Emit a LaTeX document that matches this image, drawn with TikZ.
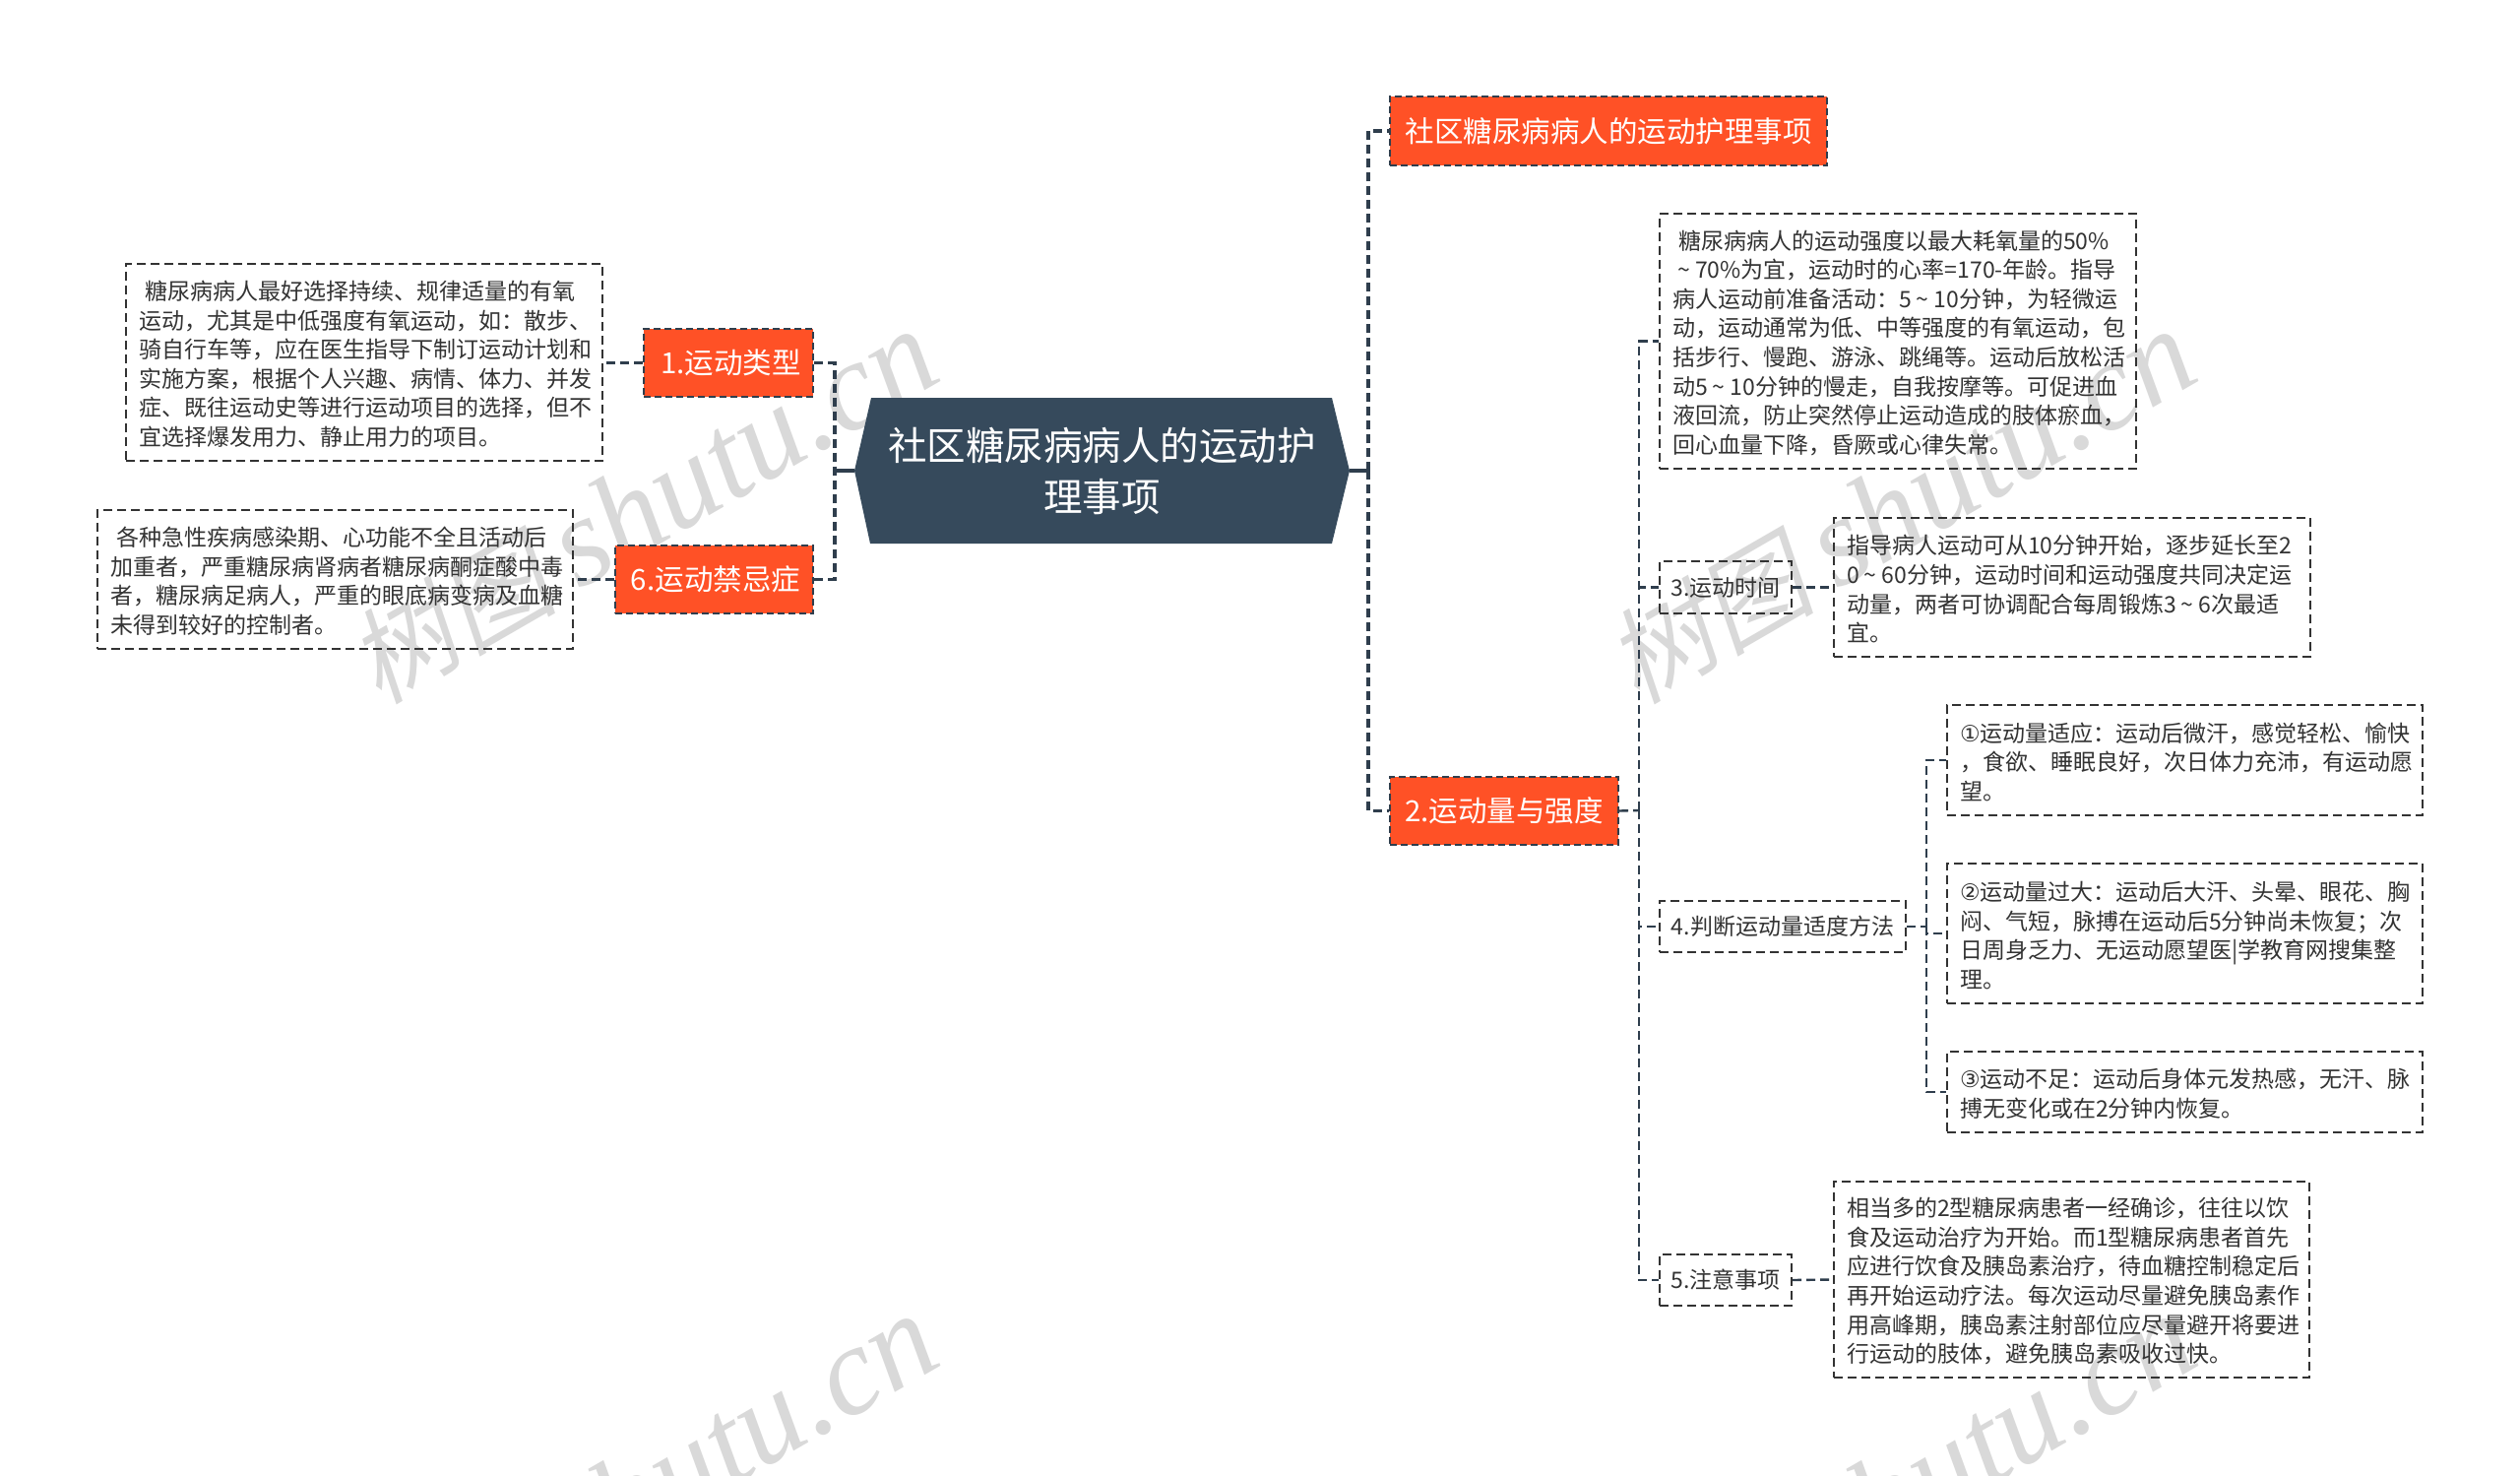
\documentclass[tikz,border=0pt]{standalone}
\usepackage{fontspec}
\setmainfont{Noto Sans CJK SC}
\newfontfamily\wmfont{Liberation Serif}
\newfontfamily\wmcjk[FakeSlant=0.2]{Noto Sans CJK SC}
\newfontfamily\symfont{DejaVu Sans}
\newcommand{\fs}[2]{\fontsize{#1}{#2}\selectfont}
\newcommand{\tld}{\makebox[1em]{\textasciitilde}}
\newcommand{\wmtext}{{\wmcjk\fs{106}{106}树图}\hspace{22pt}{\wmfont\itshape\fs{128}{128}shutu.cn}}
\begin{document}
\begin{tikzpicture}[x=1pt,y=-1pt,
  conn/.style={draw=linec,line width=2.4pt,dash pattern=on 9pt off 5pt},
  mainconn/.style={draw=linec,line width=3.2pt,dash pattern=on 9pt off 5pt},
  rootconn/.style={draw=linec,line width=3.2pt},
  orangebox/.style={draw=linec,line width=2.4pt,dash pattern=on 7pt off 4pt,fill=orangec,text=white,inner sep=0pt,font=\fs{29.5}{36},align=center},
  subbox/.style={draw=boxc,line width=2pt,dash pattern=on 9pt off 5pt,text=textc,inner sep=0pt,font=\fs{23}{29.6},align=center},
  textbox/.style={draw=boxc,line width=2pt,dash pattern=on 9pt off 5pt,text=textc,inner ysep=0pt,inner xsep=13pt,font=\fs{23}{29.6},align=left,text height=23pt},
  wm/.style={text=wmc,rotate=30,inner sep=0pt}]
\definecolor{linec}{HTML}{2F3E4D}
\definecolor{boxc}{HTML}{333333}
\definecolor{textc}{HTML}{333333}
\definecolor{orangec}{HTML}{FF5126}
\definecolor{rootc}{HTML}{364A5C}
\definecolor{wmc}{HTML}{D9D9D9}
\useasboundingbox[fill=white] (0,0) rectangle (2560,1499);
\coordinate (trunkL) at (848,478);
\coordinate (trunkR) at (1390,478);
\coordinate (trunkB) at (1665,823);
\coordinate (trunkC) at (1957,941);

\node[wm] (w1) at (653,516) {\wmtext};
\node[wm] (w2) at (1931,516) {\wmtext};
\node[wm] (w3) at (653,1516) {\wmtext};
\node[wm] (w4) at (1931,1516) {\wmtext};

\fill[rootc] (868,478) -- (885,404) -- (1353,404) -- (1371,478) -- (1353,552) -- (884,552) -- cycle;
\node[text=white,font=\fs{39.5}{52},align=center,inner sep=0pt] (root) at (1119.5,478) {社区糖尿病病人的运动护\\理事项};
\coordinate (rootW) at (868,478);
\coordinate (rootE) at (1371,478);

\node[orangebox,minimum width=444pt,minimum height=70pt] (title) at (1634,133) {社区糖尿病病人的运动护理事项};
\node[orangebox,minimum width=172pt,minimum height=69pt] (n1) at (740,368.5) {\hspace*{5pt}1.运动类型};
\node[orangebox,minimum width=201pt,minimum height=69pt] (n6) at (725.5,588.5) {\hspace*{3pt}6.运动禁忌症};
\node[orangebox,minimum width=232pt,minimum height=69pt] (n2) at (1528,823.5) {2.运动量与强度};

\node[textbox,text width=458pt,minimum height=200pt] (a1) at (370,368) {\hspace*{6pt}糖尿病病人最好选择持续、规律适量的有氧\\运动，尤其是中低强度有氧运动，如：散步、\\骑自行车等，应在医生指导下制订运动计划和\\实施方案，根据个人兴趣、病情、体力、并发\\症、既往运动史等进行运动项目的选择，但不\\宜选择爆发用力、静止用力的项目。};
\node[textbox,text width=457pt,minimum height=141pt] (a6) at (340.5,588.5) {\hspace*{6pt}各种急性疾病感染期、心功能不全且活动后\\加重者，严重糖尿病肾病者糖尿病酮症酸中毒\\者，糖尿病足病人，严重的眼底病变病及血糖\\未得到较好的控制者。};

\node[textbox,text width=458pt,minimum height=259pt] (b0) at (1928,346.5) {\hspace*{6pt}糖尿病病人的运动强度以最大耗氧量的50\%\\\tld 70\%为宜，运动时的心率=170-年龄。指导\\病人运动前准备活动：5\tld 10分钟，为轻微运\\动，运动通常为低、中等强度的有氧运动，包\\括步行、慢跑、游泳、跳绳等。运动后放松活\\动5\tld 10分钟的慢走，自我按摩等。可促进血\\液回流，防止突然停止运动造成的肢体瘀血，\\回心血量下降，昏厥或心律失常。};
\node[subbox,minimum width=134pt,minimum height=53pt] (n3) at (1753,596.5) {3.运动时间};
\node[textbox,text width=458pt,minimum height=141pt] (b3) at (2105,596.5) {指导病人运动可从10分钟开始，逐步延长至2\\0\tld 60分钟，运动时间和运动强度共同决定运\\动量，两者可协调配合每周锻炼3\tld 6次最适\\宜。};
\node[subbox,minimum width=250pt,minimum height=52pt] (n4) at (1811,941) {4.判断运动量适度方法};
\node[textbox,text width=457pt,minimum height=112pt] (c1) at (2219.5,772) {{\symfont ①}运动量适应：运动后微汗，感觉轻松、愉快\\，食欲、睡眠良好，次日体力充沛，有运动愿\\望。};
\node[textbox,text width=457pt,minimum height=142pt] (c2) at (2219.5,948) {{\symfont ②}运动量过大：运动后大汗、头晕、眼花、胸\\闷、气短，脉搏在运动后5分钟尚未恢复；次\\日周身乏力、无运动愿望医|学教育网搜集整\\理。};
\node[textbox,text width=457pt,minimum height=82pt] (c3) at (2219.5,1109) {{\symfont ③}运动不足：运动后身体元发热感，无汗、脉\\搏无变化或在2分钟内恢复。};
\node[subbox,minimum width=134pt,minimum height=52pt] (n5) at (1753,1300) {5.注意事项};
\node[textbox,text width=457pt,minimum height=199pt] (b5) at (2104.5,1299.5) {相当多的2型糖尿病患者一经确诊，往往以饮\\食及运动治疗为开始。而1型糖尿病患者首先\\应进行饮食及胰岛素治疗，待血糖控制稳定后\\再开始运动疗法。每次运动尽量避免胰岛素作\\用高峰期，胰岛素注射部位应尽量避开将要进\\行运动的肢体，避免胰岛素吸收过快。};

\draw[rootconn] (rootW) -- (trunkL);
\draw[mainconn] (n1.east) -| (trunkL);
\draw[mainconn] (n6.east) -| (trunkL);
\draw[rootconn] (rootE) -- (trunkR);
\draw[mainconn] (trunkR) |- (title.west);
\draw[mainconn] (trunkR) |- (n2.west);
\draw[conn] (n1.west) -- (a1.east |- n1.west);
\draw[conn] (n6.west) -- (a6.east |- n6.west);
\draw[conn] (n2.east) -- (trunkB);
\draw[conn] (trunkB) |- (b0.west);
\draw[conn] (trunkB) |- (n3.west);
\draw[conn] (trunkB) |- (n4.west);
\draw[conn] (trunkB) |- (n5.west);
\draw[conn] (n3.east) -- (b3.west);
\draw[conn] (n5.east) -- (b5.west);
\draw[conn] (n4.east) -- (trunkC);
\draw[conn] (trunkC) |- (c1.west);
\draw[conn] (trunkC) |- (c2.west);
\draw[conn] (trunkC) |- (c3.west);
\end{tikzpicture}
\end{document}
